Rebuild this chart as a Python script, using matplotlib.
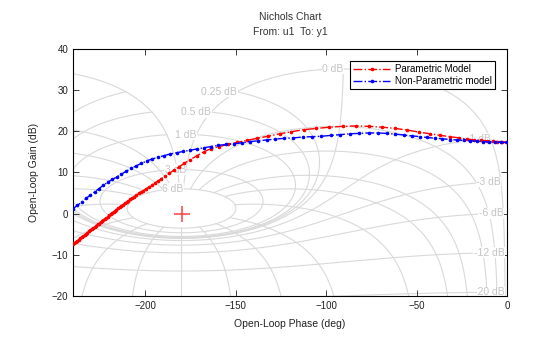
import numpy as np
import matplotlib
matplotlib.use("Agg")
import matplotlib.pyplot as plt

plt.rcParams["font.family"] = ["Liberation Sans", "DejaVu Sans"]

# Nichols grid levels (closed-loop gain in dB, closed-loop phase in deg)
grid_gains_db = [6, 3, 1, 0.5, 0.25, 0, -1, -3, -6, -12, -20, -40]
grid_phases_deg = [-1, -5, -10, -20, -30, -50, -90, -120, -150, -180,
                   -210, -240, -270, -310, -330, -340, -350, -355, -359]

# Parametric model: open-loop phase (deg) / gain (dB)
param_phase = [-240.0, -239.2, -238.4, -237.6, -236.8, -236.0, -235.2, -234.4, -233.6, -232.8,
               -232.0, -231.2, -230.4, -229.6, -228.8, -228.0, -227.2, -226.4, -225.6, -224.8,
               -224.0, -223.2, -222.4, -221.6, -220.8, -220.0, -219.2, -218.4, -217.6, -216.8,
               -216.0, -215.1, -214.2, -213.3, -212.4, -211.4, -210.4, -209.4, -208.3, -207.2,
               -206.1, -204.9, -203.7, -202.4, -201.1, -199.7, -198.2, -196.6, -194.9, -193.1,
               -191.2, -189.1, -186.8, -184.3, -181.6, -178.6, -175.3, -171.7, -167.8, -163.6,
               -159.1, -154.3, -149.2, -143.8, -138.1, -132.1, -125.8, -119.2, -112.4, -105.4,
               -98.2, -90.9, -83.5, -76.2, -69.0, -61.9, -55.1, -48.6, -42.5, -36.8,
               -31.5, -26.6, -22.1, -18.0, -14.3, -11.0, -8.0, -5.3, -2.8, -0.5]
param_gain = [-7.4, -7.1, -6.8, -6.6, -6.3, -6.0, -5.7, -5.4, -5.2, -4.9,
              -4.6, -4.3, -4.0, -3.8, -3.5, -3.2, -2.9, -2.6, -2.4, -2.1,
              -1.8, -1.5, -1.2, -1.0, -0.7, -0.4, -0.1, 0.2, 0.4, 0.7,
              1.0, 1.3, 1.6, 1.9, 2.2, 2.5, 2.8, 3.1, 3.5, 3.8,
              4.1, 4.5, 4.9, 5.2, 5.6, 6.0, 6.4, 6.9, 7.4, 7.9,
              8.5, 9.1, 9.8, 10.5, 11.3, 12.2, 13.1, 14.0, 15.0, 15.8,
              16.3, 16.8, 17.3, 17.8, 18.3, 18.8, 19.4, 19.9, 20.4, 20.7,
              21.0, 21.2, 21.3, 21.2, 21.0, 20.7, 20.3, 19.8, 19.4, 19.0,
              18.7, 18.4, 18.1, 17.9, 17.8, 17.7, 17.6, 17.5, 17.5, 17.4]

# Non-parametric (measured) model
nonparam_phase = [-240.0, -237.6, -235.2, -232.8, -230.4, -228.0, -225.6, -223.2, -220.8, -218.3,
                  -215.8, -213.2, -210.6, -207.9, -205.1, -202.2, -199.2, -196.1, -192.9, -189.6,
                  -186.2, -182.7, -179.1, -175.4, -171.6, -167.7, -163.7, -159.6, -155.4, -151.1,
                  -146.7, -142.2, -137.6, -132.9, -128.1, -123.2, -118.2, -113.1, -107.9, -102.7,
                  -97.4, -92.1, -86.8, -81.6, -76.5, -71.5, -66.6, -61.8, -57.2, -52.7,
                  -48.3, -44.0, -39.8, -35.7, -31.7, -27.8, -24.0, -20.3, -16.7, -13.2,
                  -9.8, -6.5, -3.3, -0.2]
nonparam_gain = [1.2, 2.0, 2.8, 3.7, 4.5, 5.3, 6.1, 6.9, 7.6, 8.3,
                 8.9, 9.6, 10.3, 11.0, 11.6, 12.2, 12.8, 13.3, 13.7, 14.1,
                 14.5, 14.8, 15.1, 15.4, 15.7, 16.0, 16.3, 16.6, 16.8, 17.0,
                 17.2, 17.5, 17.7, 17.9, 18.1, 18.3, 18.4, 18.6, 18.7, 18.8,
                 19.0, 19.2, 19.4, 19.5, 19.6, 19.6, 19.5, 19.3, 19.1, 18.9,
                 18.7, 18.5, 18.3, 18.2, 18.0, 17.9, 17.8, 17.7, 17.6, 17.5,
                 17.4, 17.4, 17.3, 17.3]

critical_phase, critical_gain = -180, 0

GRID_COLOR = "#d9d9d9"
GRID_TEXT = "#c4c4c4"


def open_loop(cl_gain_db, cl_phase_deg):
    # map closed-loop T to open-loop L = T / (1 - T)
    t = 10 ** (np.asarray(cl_gain_db, dtype=float) / 20) * np.exp(1j * np.radians(cl_phase_deg))
    d = 1 - t
    gain = 20 * np.log10(np.abs(t) / np.abs(d))
    phase = np.asarray(cl_phase_deg, dtype=float) - np.degrees(np.angle(d))
    return phase, gain


fig = plt.figure(figsize=(5.6, 3.37), dpi=100)
ax = fig.add_axes([0.1304, 0.1217, 0.775, 0.733])

# iso-gain curves
theta = np.linspace(-359, -1, 3000)
for g in grid_gains_db:
    p, G = open_loop(np.full_like(theta, g), theta)
    ax.plot(p, G, color=GRID_COLOR, lw=0.8, zorder=1)

# iso-phase curves
mags = np.linspace(max(grid_gains_db), -60, 8000)
for ph in grid_phases_deg:
    p, G = open_loop(mags, np.full_like(mags, ph))
    ax.plot(p, G, color=GRID_COLOR, lw=0.8, zorder=1)

xlim, ylim = (-240, 0), (-20, 40)
for g in grid_gains_db:
    p, G = open_loop(g, -1.0)
    if xlim[0] <= p <= xlim[1] and ylim[0] <= G <= ylim[1]:
        ax.text(p, G, f"{g:g} dB", ha="right", va="center", fontsize=7.5,
                color=GRID_TEXT, zorder=2, clip_on=True,
                bbox=dict(fc="white", ec="none", pad=0.3))

ax.plot(param_phase, param_gain, "-.", color="red", lw=1.0, marker=".", ms=3.2,
        label="Parametric Model", zorder=4)
ax.plot(nonparam_phase, nonparam_gain, "-.", color="blue", lw=1.0, marker=".", ms=3.2,
        label="Non-Parametric model", zorder=4)
ax.plot(critical_phase, critical_gain, "+", color="#ff4040", ms=11, mew=1.1, zorder=3)

ax.set_xlim(*xlim)
ax.set_ylim(*ylim)
ax.set_xticks([-200, -150, -100, -50, 0])
ax.set_yticks(np.arange(-20, 41, 10))
ax.tick_params(direction="in", top=True, right=True, length=4, width=0.6,
               labelsize=7, colors="#222222")
for s in ax.spines.values():
    s.set_linewidth(0.8)

ax.set_xlabel("Open-Loop Phase (deg)", fontsize=7.5, color="#222222", labelpad=6)
ax.set_ylabel("Open-Loop Gain (dB)", fontsize=7.5, color="#222222", labelpad=9)
ax.set_title("Nichols Chart\nFrom: u1  To: y1", fontsize=7.5, color="#333333",
             linespacing=1.6, pad=10)

leg = ax.legend(loc="upper right", bbox_to_anchor=(0.972, 0.951), borderaxespad=0,
                fontsize=7, frameon=True, fancybox=False, edgecolor="black",
                framealpha=1, handlelength=3.8, borderpad=0.3, labelspacing=0.2,
                handletextpad=0.5, numpoints=1)
leg.get_frame().set_linewidth(0.8)

fig.savefig("out.png", dpi=100)
